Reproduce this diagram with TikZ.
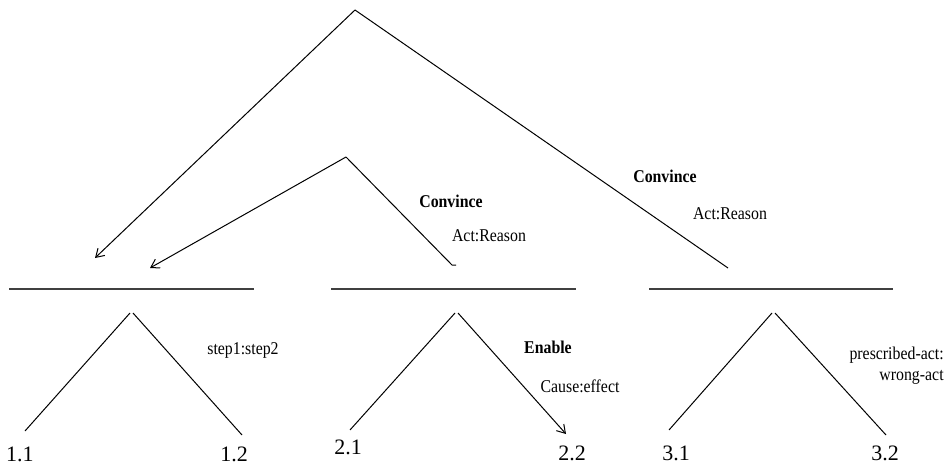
\documentclass[tikz,border=0pt]{standalone}
\usepackage{fontspec}
\setmainfont{Liberation Serif}
\usetikzlibrary{arrows.meta,calc}
\tikzset{
    leaf/.style = {inner sep=0pt, font=\fontsize{11}{12}\selectfont},
    rel/.style = {inner sep=0pt, font=\fontsize{9}{10.5}\selectfont, xscale=.88, transform shape},
    relname/.style = {rel, font=\fontsize{9}{10.5}\selectfont\bfseries},
    seg/.style = {draw, line width=.5pt},
    bar/.style = {draw, line width=.8pt, black!75},
    arrow/.style = {draw, line width=.5pt, -{Straight Barb[length=4pt,width=5pt]}}
}

\begin{document}
\begin{tikzpicture}[x=0.5pt, y=-0.5pt]
        \useasboundingbox (0,0) rectangle (948,465);
        % upper relations
        \coordinate (top) at (355,10);
        \coordinate (topl) at (95,258);
        \coordinate (topr) at (728,268);
        \coordinate (mid) at (346,157);
        \coordinate (midl) at (150,268);
        \coordinate (midr) at (452,265);
        \coordinate (midt) at (456,265);
        \draw [arrow] (top) -- (topl);
        \draw [seg] (top) -- (topr);
        \draw [arrow] (mid) -- (midl);
        \draw [seg] (mid) -- (midr) -- (midt);
        \node [relname] (conv1) at (665,176) {Convince};
        \node [rel] (act1) at (730,214) {Act:Reason};
        \node [relname] (conv2) at (451,201) {Convince};
        \node [rel] (act2) at (489,236) {Act:Reason};
        % segments
        \coordinate (s1a) at (9,289);   \coordinate (s1b) at (254,289);
        \coordinate (s2a) at (331,289); \coordinate (s2b) at (576,289);
        \coordinate (s3a) at (649,289); \coordinate (s3b) at (893,289);
        \draw [bar] (s1a) -- (s1b);
        \draw [bar] (s2a) -- (s2b);
        \draw [bar] (s3a) -- (s3b);
        % lower trees
        \coordinate (t1l) at (130,313); \coordinate (t1r) at (133,313);
        \coordinate (t2l) at (455,313); \coordinate (t2r) at (458,313);
        \coordinate (t3l) at (772,313); \coordinate (t3r) at (775,313);
        \coordinate (e11) at (25,431);  \coordinate (e12) at (242,435);
        \coordinate (e21) at (350,430); \coordinate (e22) at (566,434);
        \coordinate (e31) at (669,430); \coordinate (e32) at (886,435);
        \draw [seg] (t1l) -- (e11);
        \draw [seg] (t1r) -- (e12);
        \draw [seg] (t2l) -- (e21);
        \draw [arrow] (t2r) -- (e22);
        \draw [seg] (t3l) -- (e31);
        \draw [seg] (t3r) -- (e32);
        \node [leaf] (n11) at (20,454) {1.1};
        \node [leaf] (n12) at (234,454) {1.2};
        \node [leaf] (n21) at (348,447) {2.1};
        \node [leaf] (n22) at (572,453) {2.2};
        \node [leaf] (n31) at (676,453) {3.1};
        \node [leaf] (n32) at (885,453) {3.2};
        \node [rel] (steps) at (243,350) {step1:step2};
        \node [relname] (enab) at (548,347) {Enable};
        \node [rel] (cause) at (580,386) {Cause:effect};
        \node [rel, align=right, anchor=east] (presc) at (944,366) {prescribed-act:\\wrong-act};
    \end{tikzpicture}
\end{document}
